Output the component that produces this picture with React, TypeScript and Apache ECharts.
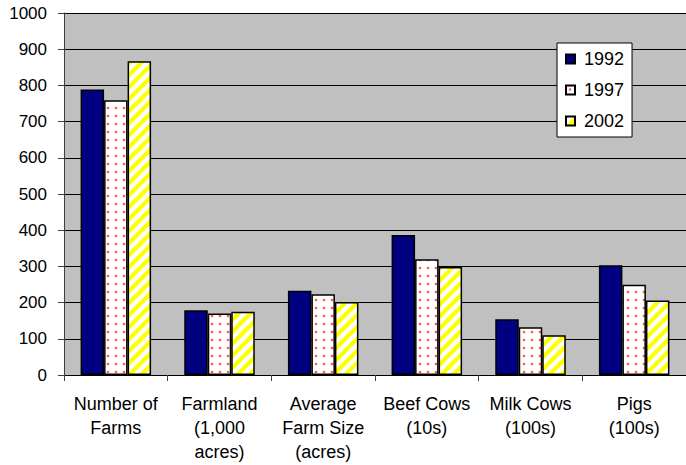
import React, { useEffect, useRef } from "react";
import * as echarts from "echarts";

// Farm statistics by year
const categories = [
  "Number of\nFarms",
  "Farmland\n(1,000\nacres)",
  "Average\nFarm Size\n(acres)",
  "Beef Cows\n(10s)",
  "Milk Cows\n(100s)",
  "Pigs\n(100s)",
];
const years = ["1992", "1997", "2002"];
const values1992 = [789, 179, 233, 387, 154, 303];
const values1997 = [759, 170, 223, 320, 132, 249];
const values2002 = [867, 175, 202, 298, 110, 206];
const yTicks = { min: 0, max: 1000, interval: 100 };

const FONT = "'Liberation Sans', Arial, sans-serif";

const svgUrl = (svg: string) =>
  "data:image/svg+xml;charset=utf-8," + encodeURIComponent(svg);

// red dot grid on white
const dotTile = svgUrl(
  "<svg xmlns='http://www.w3.org/2000/svg' width='8' height='8'>" +
    "<rect width='8' height='8' fill='#ffffff'/>" +
    "<circle cx='4' cy='4' r='1.6' fill='#ffb4b4'/>" +
    "<circle cx='4' cy='4' r='0.9' fill='#ff3030'/>" +
    "</svg>"
);

// yellow diagonal stripes on white
const stripeTile = svgUrl(
  "<svg xmlns='http://www.w3.org/2000/svg' width='12' height='12'>" +
    "<rect width='12' height='12' fill='#ffffff'/>" +
    "<polygon points='0,9 9,0 12,0 12,3 3,12 0,12' fill='#ffff00'/>" +
    "<polygon points='9,12 12,9 12,12' fill='#ffff00'/>" +
    "<polygon points='0,0 3,0 0,3' fill='#ffff00'/>" +
    "</svg>"
);

export default function App() {
  const ref = useRef<HTMLDivElement>(null);

  useEffect(() => {
    if (!ref.current) return;
    const chart = echarts.init(ref.current, null, { renderer: "svg" });

    const fills: any[] = [
      "#000080",
      { image: dotTile, repeat: "repeat", imageWidth: 8, imageHeight: 8 },
      { image: stripeTile, repeat: "repeat", imageWidth: 12, imageHeight: 12 },
    ];
    const data = [values1992, values1997, values2002];

    chart.setOption({
      animation: false,
      backgroundColor: "#ffffff",
      textStyle: { fontFamily: FONT },
      grid: {
        left: 64,
        top: 13,
        width: 625,
        height: 362,
        show: true,
        backgroundColor: "#c0c0c0",
        borderWidth: 0,
        containLabel: false,
      },
      legend: {
        orient: "vertical",
        left: 557,
        top: 43,
        padding: [7, 8, 7, 8],
        itemWidth: 9,
        itemHeight: 9,
        itemGap: 13,
        backgroundColor: "#ffffff",
        borderColor: "#000000",
        borderWidth: 1,
        icon: "rect",
        textStyle: {
          fontFamily: FONT,
          fontSize: 18,
          color: "#000000",
          lineHeight: 18,
          padding: [0, 0, 0, 4],
        },
        data: years,
      },
      xAxis: {
        type: "category",
        data: categories,
        boundaryGap: true,
        axisLine: { show: true, lineStyle: { color: "#000000", width: 1 } },
        axisTick: { show: true, length: 6, lineStyle: { color: "#404040" } },
        axisLabel: {
          interval: 0,
          margin: 17,
          fontFamily: FONT,
          fontSize: 18,
          lineHeight: 24,
          color: "#000000",
        },
        splitLine: { show: false },
      },
      yAxis: {
        type: "value",
        min: yTicks.min,
        max: yTicks.max,
        interval: yTicks.interval,
        axisLine: { show: true, lineStyle: { color: "#404040", width: 1 } },
        axisTick: { show: true, length: 6, lineStyle: { color: "#404040" } },
        axisLabel: {
          margin: 17,
          fontFamily: FONT,
          fontSize: 17,
          color: "#000000",
          formatter: (v: number) => String(v),
        },
        splitLine: { show: true, lineStyle: { color: "#000000", width: 1 } },
      },
      series: years.map((y, i) => ({
        name: y,
        type: "bar",
        data: data[i],
        barWidth: 23.5,
        barGap: "0%",
        itemStyle: {
          color: fills[i],
          borderColor: "#000000",
          borderWidth: 1.5,
        },
      })),
    });

    return () => chart.dispose();
  }, []);

  return (
    <div
      ref={ref}
      style={{
        position: "fixed",
        left: 0,
        top: 0,
        width: 686,
        height: 465,
        overflow: "hidden",
      }}
    />
  );
}
